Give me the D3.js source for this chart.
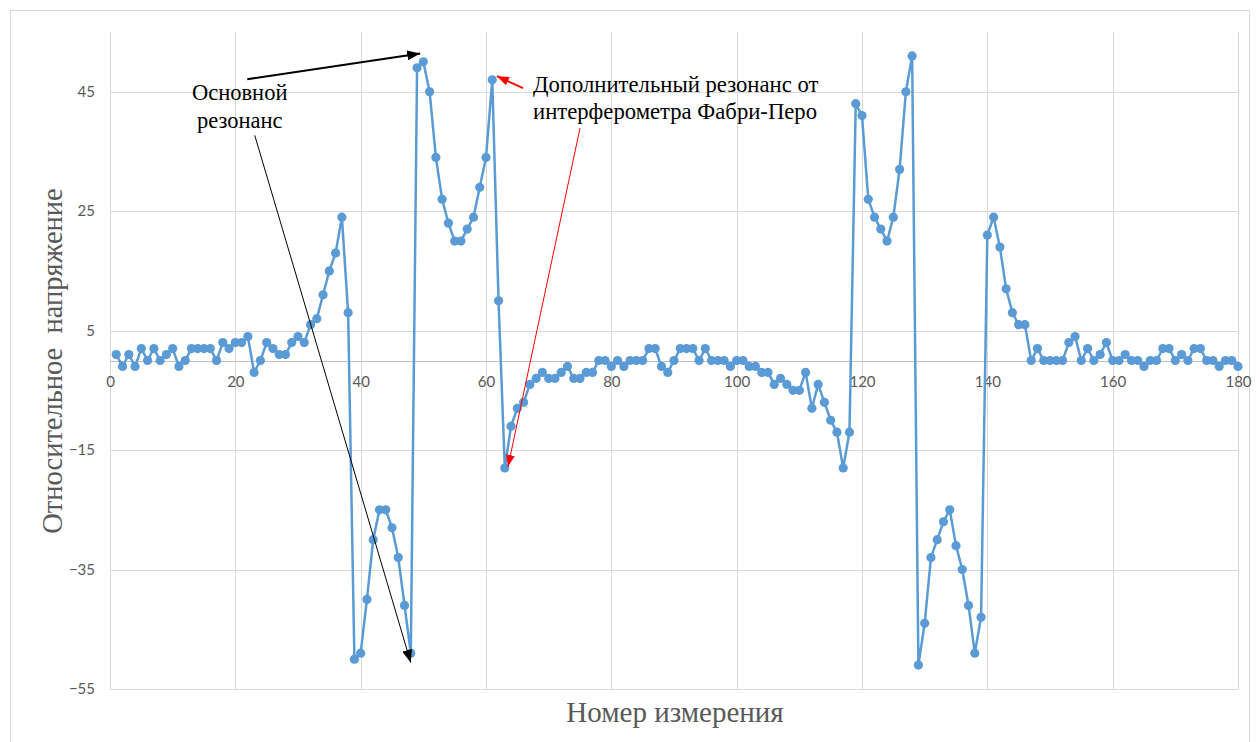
<!DOCTYPE html>
<html><head><meta charset="utf-8">
<script src="https://cdn.jsdelivr.net/npm/d3@7"></script>
<style>html,body{margin:0;padding:0;background:#fff;} svg{display:block}</style>
</head><body>
<svg id="c" width="1260" height="742"></svg>
<script>
// ---- data ----
const measurement = d3.range(1, 181);
const voltage = [
  1,-1,1,-1,2,0,2,0,1,2,
  -1,0,2,2,2,2,0,3,2,3,
  3,4,-2,0,3,2,1,1,3,4,
  3,6,7,11,15,18,24,8,-50,-49,
  -40,-30,-25,-25,-28,-33,-41,-49,49,50,
  45,34,27,23,20,20,22,24,29,34,
  47,10,-18,-11,-8,-7,-4,-3,-2,-3,
  -3,-2,-1,-3,-3,-2,-2,0,0,-1,
  0,-1,0,0,0,2,2,-1,-2,0,
  2,2,2,0,2,0,0,0,-1,0,
  0,-1,-1,-2,-2,-4,-3,-4,-5,-5,
  -2,-8,-4,-7,-10,-12,-18,-12,43,41,
  27,24,22,20,24,32,45,51,-51,-44,
  -33,-30,-27,-25,-31,-35,-41,-49,-43,21,
  24,19,12,8,6,6,0,2,0,0,
  0,0,3,4,0,2,0,1,3,0,
  0,1,0,0,-1,0,0,2,2,0,
  1,0,2,2,0,0,-1,0,0,-1
];
const xTicks = [0,20,40,60,80,100,120,140,160,180];
const yTicks = [-55,-35,-15,5,25,45];
const xTitle = "Номер измерения";
const yTitle = "Относительное  напряжение";
const noteMainLines = ["Основной", "резонанс"];
const noteFPLines = ["Дополнительный резонанс от", "интерферометра Фабри-Перо"];
// annotation anchors (data units): [x1,y1,x2,y2]
const arrowMain1 = [21.9, 47.1, 49.5, 51.4];
const arrowMain2 = [23.1, 37.7, 48.0, -50.6];
const arrowFP1 = [65.9, 45.6, 61.75, 47.6];
const arrowFP2 = [75.0, 38.9, 63.5, -17.8];
const noteMainPos = [20.7, 43.6];
const noteFPPos = [67.5, 44.9];

// ---- drawing ----
const svg = d3.select("#c");
const L = 110, R = 1238, T = 32, B = 689;
const x = d3.scaleLinear().domain([0, 180]).range([L, R]);
const y = d3.scaleLinear().domain([-55, 55]).range([B, T]);
const serif = "'Liberation Serif', 'Times New Roman', serif";

svg.append("rect").attr("x", 10.5).attr("y", 10.5).attr("width", 1239).attr("height", 760)
  .attr("fill", "#fff").attr("stroke", "#D9D9D9").attr("stroke-width", 1);

// gridlines
svg.append("g").selectAll("line").data(yTicks).join("line")
  .attr("x1", L).attr("x2", R)
  .attr("y1", d => Math.round(y(d)) + 0.5).attr("y2", d => Math.round(y(d)) + 0.5)
  .attr("stroke", "#D9D9D9").attr("stroke-width", 1);
svg.append("g").selectAll("line").data(xTicks).join("line")
  .attr("x1", d => Math.round(x(d)) + 0.5).attr("x2", d => Math.round(x(d)) + 0.5)
  .attr("y1", T).attr("y2", B + 0.5)
  .attr("stroke", "#D9D9D9").attr("stroke-width", 1);
// zero axis line
svg.append("line").attr("x1", L).attr("x2", R)
  .attr("y1", Math.round(y(0)) + 0.5).attr("y2", Math.round(y(0)) + 0.5)
  .attr("stroke", "#BFBFBF").attr("stroke-width", 1);

// y tick labels
const yAxis = d3.axisLeft(y).tickValues(yTicks).tickSize(0).tickPadding(15);
const gy = svg.append("g").attr("transform", `translate(${L},0)`).call(yAxis);
gy.select(".domain").remove();
gy.selectAll("text").attr("font-family", "Lato, 'Open Sans', sans-serif").attr("font-size", 15).attr("fill", "#595959");

// x tick labels on zero line
const xAxis = d3.axisBottom(x).tickValues(xTicks).tickSize(0).tickPadding(16);
const gx = svg.append("g").attr("transform", `translate(0,${y(0)})`).call(xAxis);
gx.select(".domain").remove();
gx.selectAll("text").attr("font-family", "Lato, 'Open Sans', sans-serif").attr("font-size", 15).attr("fill", "#595959");

// series
const pts = measurement.map((m, i) => [m, voltage[i]]);
const line = d3.line().x(d => x(d[0])).y(d => y(d[1]));
svg.append("path").datum(pts).attr("d", line).attr("fill", "none")
  .attr("stroke", "#5B9BD5").attr("stroke-width", 2.5).attr("stroke-linejoin", "round");
svg.append("g").selectAll("circle").data(pts).join("circle")
  .attr("cx", d => x(d[0])).attr("cy", d => y(d[1])).attr("r", 4.6)
  .attr("fill", "#5B9BD5");

// axis titles
svg.append("text").attr("x", 675).attr("y", 722).attr("text-anchor", "middle")
  .attr("font-family", serif).attr("font-size", 29)
  .attr("fill", "#595959").text(xTitle);
svg.append("text").attr("transform", "translate(62,361) rotate(-90)").attr("text-anchor", "middle")
  .attr("font-family", serif).attr("font-size", 28.5)
  .attr("fill", "#595959").style("white-space", "pre").text(yTitle);

// arrow markers
const defs = svg.append("defs");
function marker(id, color, len, wid) {
  defs.append("marker").attr("id", id).attr("markerUnits", "userSpaceOnUse")
    .attr("viewBox", `0 0 ${len} ${wid}`).attr("refX", len).attr("refY", wid / 2)
    .attr("markerWidth", len).attr("markerHeight", wid).attr("orient", "auto")
    .append("path").attr("d", `M0,0L${len},${wid / 2}L0,${wid}Z`).attr("fill", color);
}
marker("ahBlack", "#000", 13, 10);
marker("ahRed", "#FF0000", 12, 9);
function arrow(a, color, w, mk) {
  svg.append("line").attr("x1", x(a[0])).attr("y1", y(a[1])).attr("x2", x(a[2])).attr("y2", y(a[3]))
    .attr("stroke", color).attr("stroke-width", w).attr("marker-end", `url(#${mk})`);
}
arrow(arrowMain1, "#000", 2, "ahBlack");
arrow(arrowMain2, "#000", 1, "ahBlack");
arrow(arrowFP1, "#FF0000", 2, "ahRed");
arrow(arrowFP2, "#FF0000", 1, "ahRed");

// annotation texts
const tMain = svg.append("text").attr("text-anchor", "middle")
  .attr("font-family", serif).attr("font-size", 22.5).attr("fill", "#000");
noteMainLines.forEach((s, i) => tMain.append("tspan").attr("x", x(noteMainPos[0])).attr("y", y(noteMainPos[1]) + i * 28).text(s));
const tFP = svg.append("text").attr("text-anchor", "start")
  .attr("font-family", serif).attr("font-size", 22.7).attr("fill", "#000");
noteFPLines.forEach((s, i) => tFP.append("tspan").attr("x", x(noteFPPos[0])).attr("y", y(noteFPPos[1]) + i * 27).text(s));
</script>
</body></html>
